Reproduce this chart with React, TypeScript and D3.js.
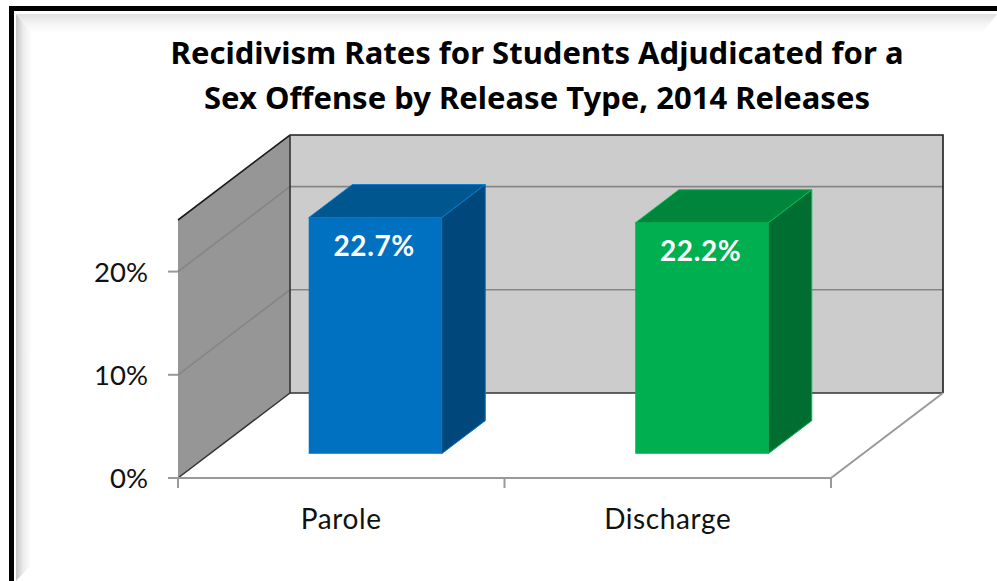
import React from "react";
import * as d3 from "d3";

// Chart content
const titleLines = [
  "Recidivism Rates for Students Adjudicated for a",
  "Sex Offense by Release Type, 2014 Releases",
];
const categories = ["Parole", "Discharge"];
const rates = [22.7, 22.2];
const rateLabels = ["22.7%", "22.2%"];
const yTicks = [0, 10, 20];
const gridTicks = [10, 20];
const barFront = ["#0070C0", "#00B050"];
const barTop = ["#00568F", "#00863C"];
const barSide = ["#00487C", "#006E30"];
const barEdge = ["#0A7BD0", "#00BE58"];

const WIDTH = 997;
const HEIGHT = 581;
const FONT = "Lato, Carlito, Calibri, sans-serif";
const TITLE_FONT = "'Noto Sans', Lato, sans-serif";

// Oblique projection of the 3D plot box
const DEPTH_X = 112;
const DEPTH_Y = -85;
const BAR_NEAR = 0.285;
const BAR_FAR = 0.675;

const xLeft = 178;
const xRight = 831;
const x = d3.scaleBand<string>().domain(categories).range([180, 833]).paddingInner(0.593).paddingOuter(0.2965);
const y = d3.scaleLinear().domain([0, 25]).range([478, 220]);
const yBar = d3.scaleLinear().domain([0, 25]).range([478, 218]);
const px = (v: number, depth: number) => v + depth * DEPTH_X;
const py = (v: number, depth: number) => v + depth * DEPTH_Y;
const poly = (pts: [number, number][]) => pts.map((p) => p.join(",")).join(" ");

const wallBase = y(0);
const wallTop = y(25);

function Frame() {
  return (
    <g>
      <defs>
        <linearGradient id="bevelLeft" x1="0" x2="1" y1="0" y2="0">
          <stop offset="0" stopColor="#c4c4c4" />
          <stop offset="0.45" stopColor="#ececec" />
          <stop offset="1" stopColor="#ffffff" />
        </linearGradient>
        <linearGradient id="bevelTop" x1="0" x2="0" y1="0" y2="1">
          <stop offset="0" stopColor="#e0e0e0" />
          <stop offset="0.5" stopColor="#f4f4f4" />
          <stop offset="1" stopColor="#ffffff" />
        </linearGradient>
      </defs>
      <polygon points="16,14 997,14 982,33 32,33" fill="url(#bevelTop)" />
      <polygon points="16,14 32,33 30,566 16,581" fill="url(#bevelLeft)" />
      <path d="M11.5,581 V8.5 H997" fill="none" stroke="#000" strokeWidth={5} />
    </g>
  );
}

function Walls() {
  return (
    <g>
      <polygon
        points={poly([
          [px(xLeft, 1), py(wallTop, 1)],
          [px(xRight, 1), py(wallTop, 1)],
          [px(xRight, 1), py(wallBase, 1)],
          [px(xLeft, 1), py(wallBase, 1)],
        ])}
        fill="#CCCCCC"
      />
      <polygon
        points={poly([
          [xLeft, wallTop],
          [px(xLeft, 1), py(wallTop, 1)],
          [px(xLeft, 1), py(wallBase, 1)],
          [xLeft, wallBase],
        ])}
        fill="#969696"
      />
      {gridTicks.map((t) => (
        <polyline
          key={t}
          points={poly([
            [xLeft, y(t)],
            [px(xLeft, 1), py(y(t), 1)],
            [px(xRight, 1), py(y(t), 1)],
          ])}
          fill="none"
          stroke="#858585"
          strokeWidth={1.6}
        />
      ))}
      <path
        d={`M${xLeft},${wallTop} L${px(xLeft, 1)},${py(wallTop, 1)} H${px(xRight, 1)} V${py(wallBase, 1)}`}
        fill="none"
        stroke="#1c1c1c"
        strokeWidth={1.6}
      />
      <path
        d={`M${px(xLeft, 1)},${py(wallTop, 1)} V${py(wallBase, 1)} H${px(xRight, 1)}`}
        fill="none"
        stroke="#333"
        strokeWidth={1.6}
      />
      <line x1={xLeft} y1={wallBase} x2={px(xLeft, 1)} y2={py(wallBase, 1)} stroke="#333" strokeWidth={1.5} />
    </g>
  );
}

function Floor() {
  const ticksX = [xLeft, (xLeft + xRight) / 2, xRight];
  return (
    <g stroke="#999" strokeWidth={2} fill="none">
      <line x1={xLeft - 10} y1={wallBase} x2={xRight} y2={wallBase} />
      <line x1={xRight} y1={wallBase} x2={px(xRight, 1)} y2={py(wallBase, 1)} />
      {ticksX.map((tx) => (
        <line key={tx} x1={tx} y1={wallBase} x2={tx} y2={wallBase + 10} />
      ))}
      {yTicks.map((t) => (
        <line key={t} x1={xLeft - 10} y1={y(t)} x2={xLeft} y2={y(t)} />
      ))}
    </g>
  );
}

function Bar({ index }: { index: number }) {
  const name = categories[index];
  const x0 = x(name)!;
  const x1 = x0 + x.bandwidth();
  const base = yBar(0);
  const top = yBar(rates[index]);
  const fl = px(x0, BAR_NEAR);
  const fr = px(x1, BAR_NEAR);
  const bl = px(x0, BAR_FAR);
  const br = px(x1, BAR_FAR);
  const edge = barEdge[index];
  const fBase = py(base, BAR_NEAR);
  const fTop = py(top, BAR_NEAR);
  const bBase = py(base, BAR_FAR);
  const bTop = py(top, BAR_FAR);
  return (
    <g strokeWidth={1} stroke={edge} strokeLinejoin="round">
      <polygon points={poly([[fl, fTop], [bl, bTop], [br, bTop], [fr, fTop]])} fill={barTop[index]} />
      <polygon points={poly([[fr, fTop], [br, bTop], [br, bBase], [fr, fBase]])} fill={barSide[index]} />
      <rect x={fl} y={fTop} width={fr - fl} height={fBase - fTop} fill={barFront[index]} stroke="none" />
      <text
        x={(fl + fr) / 2 - 1}
        y={fTop + 38}
        textAnchor="middle"
        fontFamily={FONT}
        fontWeight={700}
        fontSize={28}
        letterSpacing={0.6}
        fill="#fff"
        stroke="none"
      >
        {rateLabels[index]}
      </text>
    </g>
  );
}

export default function App() {
  return (
    <svg
      width={WIDTH}
      height={HEIGHT}
      viewBox={`0 0 ${WIDTH} ${HEIGHT}`}
      style={{ position: "fixed", left: 0, top: 0, display: "block", background: "#fff" }}
    >
      <Frame />
      {titleLines.map((line, i) => (
        <text
          key={line}
          x={537}
          y={64 + i * 45}
          textAnchor="middle"
          fontFamily={TITLE_FONT}
          fontWeight={700}
          fontSize={31}
          fill="#000"
        >
          {line}
        </text>
      ))}
      <Walls />
      <Floor />
      {categories.map((c, i) => (
        <Bar key={c} index={i} />
      ))}
      {yTicks.map((t) => (
        <text key={t} x={148} y={y(t) + 10} textAnchor="end" fontFamily={FONT} fontSize={27.5} fill="#111">
          {`${t}%`}
        </text>
      ))}
      {categories.map((c) => (
        <text
          key={c}
          x={x(c)! + x.bandwidth() / 2 - 2}
          y={529}
          textAnchor="middle"
          fontFamily={FONT}
          fontSize={28}
          letterSpacing={0.6}
          fill="#111"
        >
          {c}
        </text>
      ))}
    </svg>
  );
}
